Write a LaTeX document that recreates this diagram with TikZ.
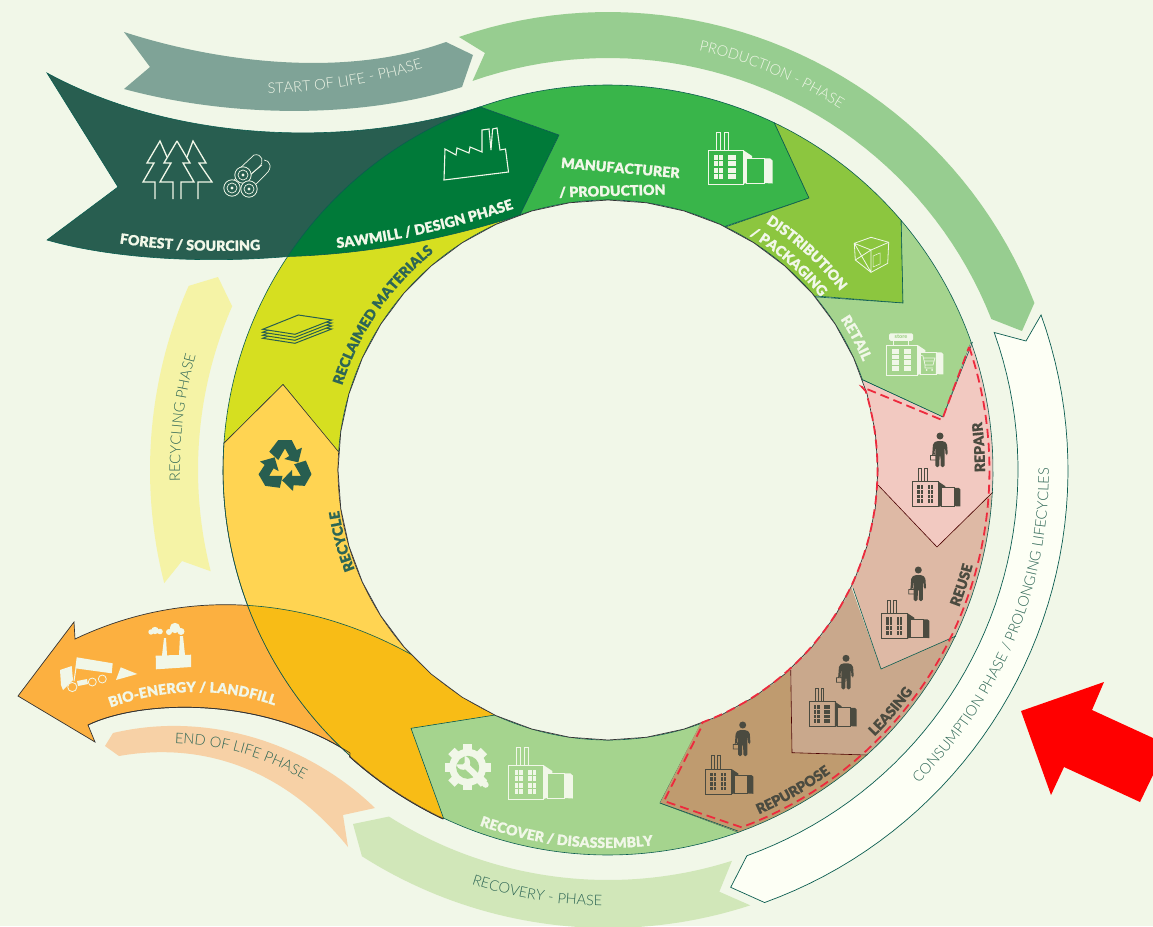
\documentclass[tikz,border=0pt]{standalone}
\usepackage{fontspec}
\usetikzlibrary{decorations.text}
\newfontfamily\fbk{Lato Black}[FakeBold=0.5]
\newfontfamily\fbs{Lato Black}
\newfontfamily\flt{Lato Light}
\newcommand\Bk{\fbk\fontsize{14.2}{15}\selectfont}
\newcommand\Lt{\flt\fontsize{14.6}{15}\selectfont}
\definecolor{bg}{HTML}{F1F7E8}
\definecolor{teal}{HTML}{0B5D50}
\definecolor{dkteal}{HTML}{285E50}
\definecolor{gry}{HTML}{4B4B40}
\definecolor{lbl}{HTML}{2E6655}
\definecolor{forest}{HTML}{285E50}
\definecolor{saw}{HTML}{007A39}
\definecolor{manu}{HTML}{39B54A}
\definecolor{dist}{HTML}{8CC63F}
\definecolor{retail}{HTML}{A5D48E}
\definecolor{repair}{HTML}{F2C9C1}
\definecolor{reuse}{HTML}{DEB9A5}
\definecolor{leasing}{HTML}{C9A88C}
\definecolor{repurp}{HTML}{BF9B6F}
\definecolor{recyc}{HTML}{FFD452}
\definecolor{reclaim}{HTML}{D6DF20}
\definecolor{bio}{HTML}{FCB040}
\definecolor{over}{HTML}{F8BC16}
\definecolor{reddash}{HTML}{ED2A3D}
\definecolor{rstart}{HTML}{7FA397}
\definecolor{rprod}{HTML}{97CD90}
\definecolor{rcons}{HTML}{FDFFF5}
\definecolor{rrecov}{HTML}{D1E7B9}
\definecolor{rend}{HTML}{F7D1A6}
\definecolor{rrecyc}{HTML}{F5F3A6}
\newcommand\rarc[3]{plot[variable=\t,domain=#2:#3,samples=45] ({608+#1*cos(\t)},{470+#1*sin(\t)})}
\newcommand\larc[3]{-- plot[variable=\t,domain=#2:#3,samples=45] ({608+#1*cos(\t)},{470+#1*sin(\t)})}
\newcommand\ptext[4]{\path[decorate,decoration={text along path,text align=center,text color=#2,text={|#1|#3}}] #4;}
\newcommand\recyclepath{\rarc{385}{115.3}{184} -- (283,384.5) -- (339.3,452.7) \larc{270}{183.6}{114.8} -- (411,728.3) -- cycle}
\newcommand\biolower{(88,725) .. controls (140,700) and (260,695) .. (350,753) \larc{386}{132}{115.3}}
\newcommand\biopath{(75,639) -- (74,622) -- (18,696) -- (95,742) -- (88,725) .. controls (140,700) and (260,695) .. (350,753) \larc{386}{132}{115.3} -- (495,715) .. controls (380,610) and (220,570) .. (75,639) -- cycle}
\newcommand\factory[5]{\begin{scope}[shift={(#1,#2)},scale=#3]
\draw[#4,line width=.8] (0,0) rectangle (35,34);
\ifx#51\draw[#4,line width=.7] (8,0) -- (8,-18) -- (12,-18) -- (12,0) (16,0) -- (16,-18) -- (20,-18) -- (20,0);\fi
\foreach \wx in {6.3,10.8,20,24.3}{\foreach \wy in {5,11,17.5,24}{\fill[#4] (\wx,\wy) rectangle ++(3.7,5);}}
\fill[#4] (35,0) -- (44,6) -- (44,8.3) -- (38.7,8.3) -- (38.7,33) -- (35,34) -- cycle;
\draw[#4,line width=.8] (38.7,8.3) rectangle (56,33);
\fill[#4] (56,8.3) -- (62,8.3) -- (64.5,10.5) -- (64.5,33.5) -- (56,33) -- cycle;
\end{scope}}
\newcommand\person[2]{\begin{scope}[shift={(#1,#2)}]
\fill[gry] (0,0) circle (3.5);
\fill[gry,rounded corners=1.5] (-3.5,5) -- (3.5,5) -- (7,7.5) -- (7.8,19) -- (5.6,19) -- (5,11.5) -- (4.6,11.5) -- (4.6,31) -- (.7,31) -- (.4,19) -- (-.4,19) -- (-.7,31) -- (-4.6,31) -- (-4.6,11.5) -- (-5,11.5) -- (-5.6,19) -- (-7.8,19) -- (-7,7.5) -- cycle;
\draw[gry,line width=.7] (-9.5,19.5) rectangle (-3.5,24) (-8,19.5) -- (-7,17.5) -- (-5.5,17.5) -- (-5,19.5);
\end{scope}}
\newcommand\logend[2]{\draw[bg,line width=.8,fill=forest] (#1,#2) circle (8.2); \draw[bg,line width=.7] (#1,#2) circle (5); \fill[bg] (#1,#2) circle (1.6);}
\begin{document}
\begin{tikzpicture}[x=1pt,y=-1pt,line join=miter]
\useasboundingbox (0,0) rectangle (1153,926);
\fill[bg] (0,0) rectangle (1153,926);
% phase ribbons
\fill[rstart] (124,32) .. controls (210,60) and (340,80) .. (446,42) -- (473,55) -- (462,87) .. controls (350,122) and (220,115) .. (124,89) -- (150,67) -- cycle;
\fill[rprod] \rarc{458}{251}{338.6} -- (1022,331) \larc{412}{338.5}{250.8} -- (485,53) -- cycle;
\draw[teal,line width=.7,fill=rcons] \rarc{460}{-19.7}{70.1} -- (730.7,887.3) \larc{410}{70.2}{-19.6} -- (1026,341) -- cycle;
\fill[rrecov] \rarc{410}{72.4}{122.3} -- (353,824) \larc{458}{122.5}{71.9} -- (719.3,891.7) -- cycle;
\fill[rend] (113,733) .. controls (210,710) and (310,745) .. (375,808) -- (343,815) -- (348,847) .. controls (290,775) and (210,740) .. (119,756) -- (105,746) -- cycle;
\fill[rrecyc] \rarc{458}{165.7}{203.7} -- (218,277) -- (232,306) \larc{410}{203.6}{165.7} -- (182,561) -- cycle;
% red arrow
\fill[red] (1104,682) -- (1021,711) -- (1051,795) -- (1064,767) -- (1140,802) -- (1153,775) -- (1153,738) -- (1092,710) -- cycle;
% forest and bio ribbons
\draw[teal,line width=.6,fill=forest] (47,73) .. controls (170,140) and (340,150) .. (480,107) -- (500,170) -- (288,256.5) .. controls (200,264) and (110,258) .. (47,240) -- (118,187) -- cycle;
\draw[black!80,line width=.7,fill=bio] \biopath;
% ring segments
\draw[teal,line width=.6,fill=reclaim] \rarc{385}{184}{216} \larc{270}{251}{183.6} -- (283,384.5) -- cycle;
\draw[black!80,line width=.6,fill=recyc] \recyclepath;
\begin{scope}
\clip \recyclepath;
\fill[over] \biopath;
\draw[teal,line width=.6] (495,715) .. controls (380,610) and (220,570) .. (75,639);
\end{scope}
\draw[teal,line width=.6] \rarc{385}{132}{184};
\draw[black!80,line width=.7] \biolower;
\draw[teal,line width=.6,fill=saw] \rarc{385}{213.8}{250.6} -- (559,135) -- (520,215) .. controls (450,238) and (370,254) .. (288,256.5) -- cycle;
\draw[teal,line width=.6,fill=manu] \rarc{385}{250.6}{295.6} -- (809,198) -- (726,226) \larc{270}{295.8}{251} -- (559,135) -- cycle;
\draw[teal,line width=.6,fill=dist] \rarc{385}{295.6}{319.6} -- (903,303) -- (816,296) \larc{270}{320.1}{295.8} -- (809,198) -- cycle;
\draw[teal,line width=.6,fill=retail] \rarc{385}{319.6}{340.6} -- (943,417) -- (863,380) \larc{270}{340.6}{320.1} -- (903,303) -- cycle;
\draw[teal,line width=.6,fill=retail] \rarc{385}{70.2}{115.3} -- (411,728.3) -- (495,715) \larc{270}{114.8}{69.8} -- (660,803) -- cycle;
\fill[repair] \rarc{385}{-19.4}{3.3} -- (937,547) -- (878,485) \larc{270}{3.2}{-19.4} -- (943,417) -- cycle;
\fill[reuse] \rarc{385}{3.3}{25.5} -- (881,669) -- (853,588) \larc{270}{25.7}{3.2} -- (937,547) -- cycle;
\fill[leasing] \rarc{385}{25.5}{47.7} -- (792,752.7) -- (790.7,670) \larc{270}{47.5}{25.7} -- (881,669) -- cycle;
\fill[repurp] \rarc{385}{47.7}{70.2} -- (660,803) -- (700.7,723) \larc{270}{69.8}{47.5} -- (792,752.7) -- cycle;
\draw[teal,line width=.6] (972.5,342) -- (943,417) -- (863,380) (853,588) -- (881,669) -- (956,636) (660,803) -- (738,831);
\draw[black!70!red,line width=.6] (878,485) -- (937,547) -- (993,492) (790.7,670) -- (792,752.7) -- (867,755);
\draw[teal,line width=.6] \rarc{385}{-19.4}{70.2};
% central hole
\fill[bg] \rarc{270}{0}{360} -- cycle;
\draw[black!80,line width=.7] \rarc{270}{0}{360};
% red dashed outline
\draw[reddash,line width=1.8,dash pattern=on 9pt off 5pt] (969,347) \larc{381.5}{-18}{69.5} -- (664,801) -- (702,726) \larc{269.5}{69.5}{-17} -- (862,387) -- (942,420) -- cycle;
% forest icons
\begin{scope}[bg,line width=1.3]
\draw (177,141) -- (190,163) -- (183,163) -- (194,182) -- (181,182) -- (181,199) (177,141) -- (164,163) -- (171,163) -- (160,182) -- (173,182) -- (173,199);
\draw (167,157) -- (160,141) -- (147,163) -- (154,163) -- (143,182) -- (155,182) -- (155,199);
\draw (187,157) -- (193,141) -- (206,163) -- (199,163) -- (212,182) -- (198,182) -- (198,199);
\draw[line width=.7] (238,170) -- (254,155) .. controls (262,153) and (265,162) .. (259,167) -- (248,177);
\draw[line width=.7] (234,180) -- (242,172) (256,184) -- (266,174) .. controls (273,168) and (270,160) .. (264,160) (244,180) -- (262,165);
\end{scope}
\logend{243}{175}\logend{232}{188}\logend{249}{189}
% sawmill icon
\draw[bg,line width=1.1] (444,180) -- (445,149) -- (456,155) -- (457,148) -- (469,153) -- (470,147) -- (482,152) -- (482,130) -- (489,129) -- (491,150) -- (492.6,129) -- (497,128) -- (500,150) -- (505.5,149) -- (508.5,172) -- cycle;
% industry icons
\factory{708}{150}{1}{bg}{1}
\factory{508.3}{765}{1}{bg}{1}
\factory{886.7}{345}{.88}{bg}{0}
\factory{912.7}{481.7}{.74}{gry}{1}
\factory{881.7}{613.3}{.74}{gry}{1}
\factory{809}{701.7}{.74}{gry}{1}
\factory{705.7}{769}{.74}{gry}{1}
\fill[retail] (921,354) rectangle (935,373);
\draw[bg,line width=.7] (920.5,355) -- (923,356) -- (925,365) -- (933,365) -- (935,358) -- (923.5,358) (924,361) -- (934,361) (925,365) -- (925,368) -- (933,368);
\fill[bg] (926.5,370) circle (1) (932,370) circle (1);
\draw[bg,line width=.7] (893,341) -- (893,345) (908,341) -- (908,345);
\node[fill=bg,rounded corners=1.5,inner sep=0,minimum width=24,minimum height=7.5,text=retail,font={\fbs\fontsize{5.5}{6}\selectfont}] (storesign) at (901,337) {store};
\person{940}{436}\person{918.3}{570}\person{846}{658.3}\person{742.7}{725}
% crate
\begin{scope}[bg,line width=.8]
\draw (854.3,243.3) -- (871,237.3) -- (888.7,242.3) -- (887.7,263.3) -- (871,272.3) -- (855.3,260) -- cycle;
\draw (854.3,243.3) -- (871,250) -- (888.7,242.3) (871,250) -- (871,272.3) (854.3,243.3) -- (871,272.3) (871,250) -- (855.3,260);
\draw[line width=.5] (873,267) -- (873,256) -- (880,253) -- (880,264) -- cycle;
\end{scope}
% gear and wrench
\begin{scope}[shift={(467.7,767.3)}]
\foreach \a in {0,45,...,315}{\fill[bg,rotate=\a] (-4.5,14) rectangle (4.5,23);}
\fill[bg] (0,0) circle (18.5);
\fill[retail] (0,0) circle (11.5);
\draw[bg,line width=6,line cap=round] (-1,-1) -- (18,17.5);
\fill[bg] (-4.5,-4.5) circle (7);
\fill[retail] (-8,-8) -- (-11,-3) -- (-5,-3) -- (-3,-5) -- (-3,-11) -- cycle;
\end{scope}
% sheets
\foreach \d in {9,6,3,0}{\draw[dkteal,line width=1,fill=reclaim] (262.7,329.3+\d) -- (298.3,315+\d) -- (331.7,320+\d) -- (295,334.3+\d) -- cycle;}
% recycle symbol
\foreach \r in {0,120,240}{\begin{scope}[shift={(285,466.7)},rotate=\r]
\fill[dkteal,line join=round] (-15.7,-15) -- (-6.7,-26.7) -- (6.7,-26.7) -- (11.7,-16.7) -- (17,-19) -- (13.3,-4.3) -- (-.7,-7.7) -- (4.3,-10.7) -- (0,-18.3) -- (-6.7,-6.7) -- cycle;
\end{scope}}
% truck and plant
\begin{scope}[bg]
\fill (60,670) -- (71.7,666) -- (73,680) -- (63,690) -- (61,685) -- cycle;
\fill (76.7,657.3) -- (112.7,663.3) -- (111.7,673.3) -- (75.3,668.3) -- cycle;
\fill (77,681) -- (87,679) -- (88,684) -- (78,686) -- cycle;
\draw[line width=1] (76,668) -- (74,681);
\draw[line width=.8,fill=bio] (72.3,687) circle (4.6) (92.3,682) circle (4) (102.3,679) circle (4);
\fill (120.7,667.3) -- (137.3,674) -- (116,680) -- cycle;
\fill (156,669.3) -- (155.7,655.7) -- (162,655.5) -- (164,638) -- (166,638) -- (167,655.3) -- (179,655) -- (180,636) -- (183,636) -- (185,655) -- (191,654.7) -- (191,667) -- cycle;
\fill (151,632) circle (2.7) (155,630.5) circle (3.7) (160,631.5) circle (2.8) (169,632) circle (3) (175,628) circle (5.2) (181,631.5) circle (3.5);
\end{scope}
% text
\ptext{\Lt}{bg}{START OF LIFE - PHASE}{(250,94) .. controls (312,93) and (375,85) .. (440,63)}
\ptext{\Lt}{bg}{PRODUCTION - PHASE}{\rarc{429}{276}{309}}
\ptext{\Lt}{lbl}{CONSUMPTION PHASE / PROLONGING LIFECYCLES}{\rarc{441}{50}{-5}}
\ptext{\Lt}{lbl}{RECOVERY - PHASE}{\rarc{436}{116}{83}}
\ptext{\Lt}{lbl}{END OF LIFE PHASE}{(165,743) .. controls (215,743) and (265,755) .. (312,785)}
\ptext{\Lt}{lbl}{RECYCLING PHASE}{\rarc{428}{175}{199}}
\ptext{\Bk}{bg}{FOREST / SOURCING}{(105,241) .. controls (160,251) and (220,253) .. (275,249)}
\ptext{\Bk}{bg}{SAWMILL / DESIGN PHASE}{(320,250) .. controls (390,243) and (460,228) .. (530,203)}
\ptext{\Bk}{lbl}{RECLAIMED MATERIALS}{\rarc{279}{192}{237}}
\ptext{\Bk}{lbl}{RECYCLE}{\rarc{272}{155}{175}}
\ptext{\Bk}{bg}{BIO-ENERGY / LANDFILL}{(90,716) .. controls (155,686) and (230,683) .. (295,714)}
\ptext{\Bk}{bg}{RECOVER / DISASSEMBLY}{\rarc{378}{120}{73}}
\ptext{\Bk}{gry}{REPURPOSE}{\rarc{376}{72}{48}}
\ptext{\Bk}{gry}{LEASING}{\rarc{377}{50}{31}}
\ptext{\Bk}{gry}{REUSE}{\rarc{377}{27}{9}}
\ptext{\Bk}{gry}{REPAIR}{\rarc{377}{6}{-13}}
\ptext{\Bk}{bg}{RETAIL}{\rarc{277}{321}{343}}
\ptext{\Bk}{bg}{DISTRIBUTION}{\rarc{293}{297}{328}}
\ptext{\Bk}{bg}{/ PACKAGING}{\rarc{274}{295}{327}}
\ptext{\Bk}{bg}{MANUFACTURER}{(540,166) -- (700,180)}
\ptext{\Bk}{bg}{/ PRODUCTION}{(535,198) -- (690,194)}
\end{tikzpicture}
\end{document}
